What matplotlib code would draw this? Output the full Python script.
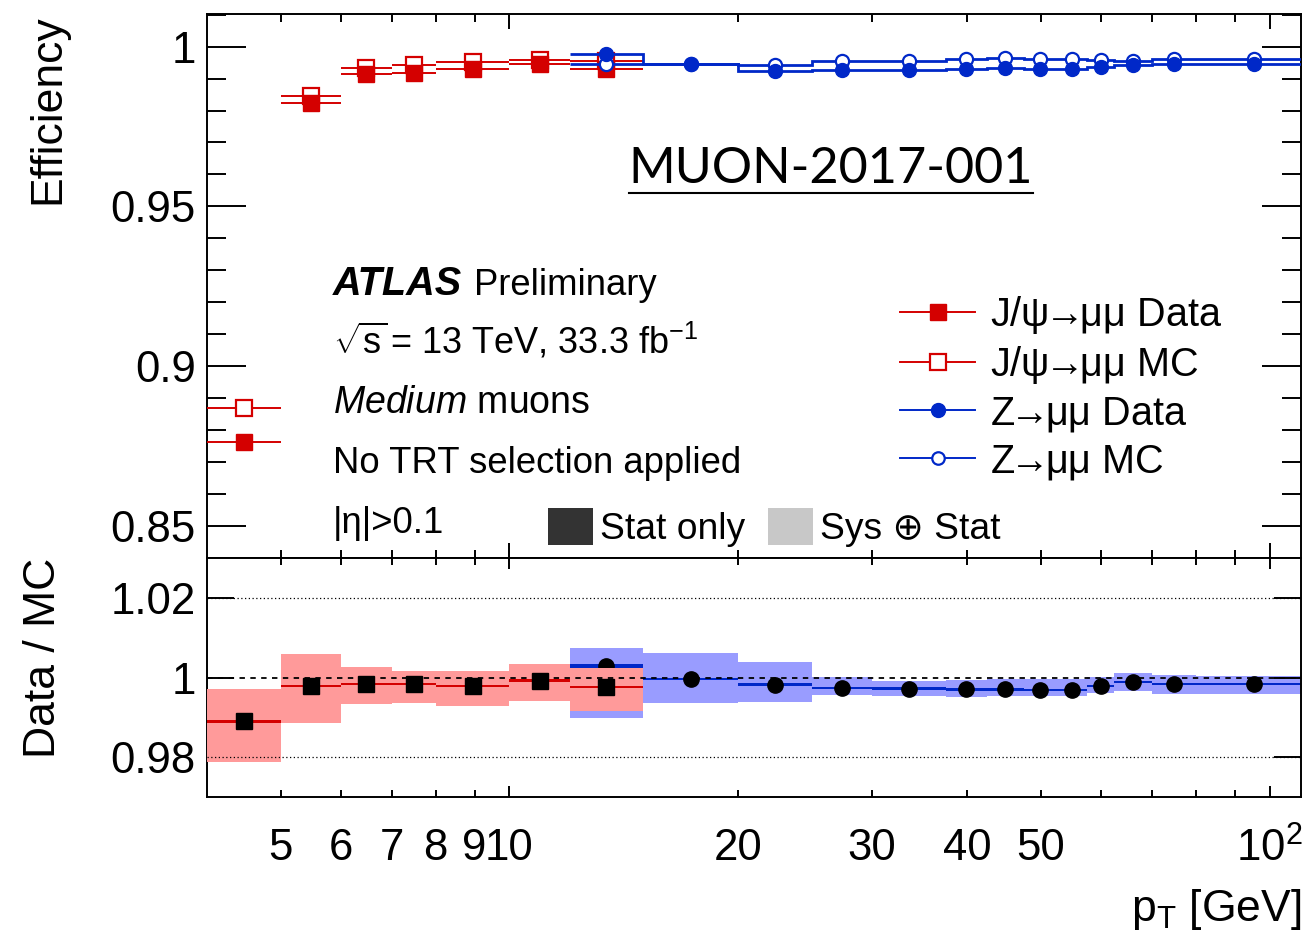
import numpy as np
import matplotlib
matplotlib.use("Agg")
import matplotlib.pyplot as plt
from matplotlib.lines import Line2D
from matplotlib.patches import Patch
from matplotlib.ticker import FixedLocator, FixedFormatter, MultipleLocator, FuncFormatter, NullFormatter

plt.rcParams["font.family"] = ["Liberation Sans", "DejaVu Sans"]
plt.rcParams["mathtext.fontset"] = "custom"
plt.rcParams["mathtext.rm"] = "Liberation Sans"
plt.rcParams["mathtext.it"] = "Liberation Sans:italic"
plt.rcParams["mathtext.bf"] = "Liberation Sans:bold"

# ---- J/psi -> mumu (pT bin edges in GeV) ----
jpsi_edges = [4, 5, 6, 7, 8, 10, 12, 15]
jpsi_data = [0.8764, 0.9822, 0.9914, 0.9917, 0.9929, 0.9944, 0.9929]
jpsi_mc = [0.8870, 0.9846, 0.9932, 0.9942, 0.9953, 0.9958, 0.9954]
jpsi_ratio = [0.9890, 0.9978, 0.9983, 0.9983, 0.9978, 0.9992, 0.9976]
jpsi_ratio_stat = [0.0003, 0.0003, 0.0003, 0.0003, 0.0003, 0.0003, 0.0003]
jpsi_ratio_lo = [0.9788, 0.9885, 0.9933, 0.9936, 0.9929, 0.9942, 0.9915]
jpsi_ratio_hi = [0.9971, 1.0060, 1.0026, 1.0016, 1.0016, 1.0035, 1.0024]

# ---- Z -> mumu ----
z_edges = [12, 15, 20, 25, 30, 37.5, 42.5, 47.5, 52.5, 57.5, 62.5, 70, 80, 114]
z_data = [0.9976, 0.9944, 0.9925, 0.9927, 0.9927, 0.9931, 0.9933, 0.9931, 0.9929,
          0.9936, 0.9943, 0.9944, 0.9945]
z_mc = [0.9947, 0.9947, 0.9943, 0.9954, 0.9955, 0.9961, 0.9964, 0.9962, 0.9960,
        0.9958, 0.9955, 0.9962, 0.9961]
z_ratio = [1.0029, 0.9997, 0.9982, 0.9973, 0.9972, 0.9970, 0.9970, 0.9969, 0.9969,
           0.9978, 0.9988, 0.9983, 0.9984]
z_ratio_stat = [0.0006, 0.0003, 0.0003, 0.0003, 0.0003, 0.0003, 0.0003, 0.0003, 0.0003,
                0.0003, 0.0003, 0.0003, 0.0003]
z_ratio_lo = [0.9899, 0.9935, 0.9938, 0.9955, 0.9953, 0.9952, 0.9953, 0.9953, 0.9954,
              0.9960, 0.9966, 0.9958, 0.9958]
z_ratio_hi = [1.0074, 1.0062, 1.0039, 1.0002, 0.9992, 0.9994, 0.9996, 0.9996, 0.9996,
              1.0002, 1.0011, 1.0006, 1.0004]

x_major = [10, 100]
x_minor = [5, 6, 7, 8, 9, 20, 30, 40, 50, 60, 70, 80, 90]
x_minor_labels = ["5", "6", "7", "8", "9", "20", "30", "40", "50", "", "", "", ""]
x_major_labels = ["10", r"$10^{2}$"]

RED = "#d40000"
RED_BAND = "#ff9a9a"
BLUE = "#0028c8"
BLUE_BAND = "#999cff"


def centres(edges):
    e = np.asarray(edges, dtype=float)
    return np.sqrt(e[:-1] * e[1:])


def half_widths(edges):
    e = np.asarray(edges, dtype=float)
    c = centres(edges)
    return np.vstack([c - e[:-1], e[1:] - c])


fig = plt.figure(figsize=(13.07, 9.35), dpi=100)
ax1 = fig.add_axes([0.15838, 0.40321, 0.83703, 0.58182])
ax2 = fig.add_axes([0.15838, 0.14759, 0.83703, 0.25561], sharex=ax1)

jc, jx = centres(jpsi_edges), half_widths(jpsi_edges)
zc = centres(z_edges)

# ---------------- efficiency panel ----------------
ax1.errorbar(jc, jpsi_mc, xerr=jx, fmt="s", ms=11, mfc="white", mec=RED, mew=1.6,
             ecolor=RED, elinewidth=1.4, capsize=0, zorder=3)
ax1.errorbar(jc, jpsi_data, xerr=jx, fmt="s", ms=11, mfc=RED, mec=RED,
             ecolor=RED, elinewidth=1.4, capsize=0, zorder=4)
ax1.stairs(z_mc, z_edges, baseline=None, color=BLUE, lw=2.0, zorder=5)
ax1.plot(zc, z_mc, "o", ms=9.5, mfc="white", mec=BLUE, mew=1.6, zorder=5)
ax1.stairs(z_data, z_edges, baseline=None, color=BLUE, lw=2.0, zorder=6)
ax1.plot(zc, z_data, "o", ms=10, mfc=BLUE, mec=BLUE, zorder=6)

ax1.set_xscale("log")
ax1.set_xlim(4, 110)
ax1.set_ylim(0.84, 1.0102)
ax1.yaxis.set_major_locator(MultipleLocator(0.05))
ax1.yaxis.set_minor_locator(MultipleLocator(0.01))
ax1.yaxis.set_major_formatter(FuncFormatter(lambda v, p: "%g" % round(v, 4)))

# ---------------- ratio panel ----------------
ax2.stairs(z_ratio_hi, z_edges, baseline=z_ratio_lo, fill=True, color=BLUE_BAND, lw=0, zorder=1)
ax2.stairs(np.add(z_ratio, z_ratio_stat), z_edges, baseline=np.subtract(z_ratio, z_ratio_stat),
           fill=True, color=BLUE, lw=0, zorder=2)
ax2.plot(zc, z_ratio, "o", ms=11, color="black", zorder=3)
ax2.stairs(jpsi_ratio_hi, jpsi_edges, baseline=jpsi_ratio_lo, fill=True, color=RED_BAND, lw=0, zorder=4)
ax2.stairs(np.add(jpsi_ratio, jpsi_ratio_stat), jpsi_edges,
           baseline=np.subtract(jpsi_ratio, jpsi_ratio_stat),
           fill=True, color=RED, lw=0, zorder=5)
ax2.axhline(1.0, color="black", lw=1.3, ls=(0, (3, 3)), zorder=6)
for yv in (0.98, 1.02):
    ax2.axhline(yv, color="black", lw=0.9, ls=(0, (1, 2)), zorder=6)
ax2.plot(jc, jpsi_ratio, "s", ms=11, color="black", zorder=7)

ax2.set_ylim(0.97, 1.03)
ax2.yaxis.set_major_locator(FixedLocator([0.98, 1.0, 1.02]))
ax2.yaxis.set_major_formatter(FixedFormatter(["0.98", "1", "1.02"]))
ax2.yaxis.set_minor_locator(FixedLocator([]))

for ax in (ax1, ax2):
    ax.xaxis.set_major_locator(FixedLocator(x_major))
    ax.xaxis.set_minor_locator(FixedLocator(x_minor))
    for s in ax.spines.values():
        s.set_linewidth(1.4)
ax1.xaxis.set_major_formatter(NullFormatter())
ax1.xaxis.set_minor_formatter(NullFormatter())
ax2.xaxis.set_major_formatter(FixedFormatter(x_major_labels))
ax2.xaxis.set_minor_formatter(FixedFormatter(x_minor_labels))

ax1.tick_params(axis="both", which="both", direction="in", top=True, right=True,
                width=1.4, labelsize=31.5)
ax1.tick_params(axis="y", which="major", length=28, pad=8)
ax1.tick_params(axis="y", which="minor", length=14)
ax1.tick_params(axis="x", which="major", length=11, labelbottom=False)
ax1.tick_params(axis="x", which="minor", length=6, labelbottom=False)

ax2.tick_params(axis="both", which="both", direction="in", top=True, right=True,
                width=1.4, labelsize=31.5)
ax2.tick_params(axis="y", which="major", length=19.5, pad=8)
ax2.tick_params(axis="x", which="major", length=8, pad=22)
ax2.tick_params(axis="x", which="minor", length=5, pad=22)

ax1.set_ylabel("Efficiency", fontsize=32, loc="top")
ax1.yaxis.set_label_coords(-0.127, 1.0)
ax2.set_ylabel("Data / MC", fontsize=32, loc="top")
ax2.yaxis.set_label_coords(-0.131, 1.0)
ax2.set_xlabel(r"p$_{\mathrm{T}}$ [GeV]", fontsize=32, loc="right", labelpad=12)

# ---------------- labels ----------------
tx = 0.1152
fs = 26.3
ax1.text(tx, 0.4835, "ATLAS", transform=ax1.transAxes, fontsize=28.5,
         fontweight="bold", fontstyle="italic", va="baseline")
ax1.text(0.2441, 0.4835, "Preliminary", transform=ax1.transAxes, fontsize=fs, va="baseline")
ax1.text(tx, 0.375, r"$\sqrt{\mathrm{s}}\!$ = 13 TeV, 33.3 fb$^{-1}$", transform=ax1.transAxes,
         fontsize=26, va="baseline")
ax1.text(tx, 0.2671, r"$\mathit{Medium}$ muons", transform=ax1.transAxes, fontsize=27,
         va="baseline")
ax1.text(tx, 0.1557, "No TRT selection applied", transform=ax1.transAxes, fontsize=fs,
         va="baseline")
ax1.text(tx, 0.0454, "|η|>0.1", transform=ax1.transAxes, fontsize=fs, va="baseline")

tag = ax1.text(0.5704, 0.689, "MUON-2017-001", transform=ax1.transAxes, fontsize=36.3,
               family="Lato", ha="center", va="baseline")

handles = [
    Line2D([], [], color=RED, lw=1.4, marker="s", ms=11, mfc=RED, mec=RED),
    Line2D([], [], color=RED, lw=1.4, marker="s", ms=11, mfc="white", mec=RED, mew=1.6),
    Line2D([], [], color=BLUE, lw=1.4, marker="o", ms=10, mfc=BLUE, mec=BLUE),
    Line2D([], [], color=BLUE, lw=1.4, marker="o", ms=9, mfc="white", mec=BLUE, mew=1.6),
]
arrow = r"$\!\!\rightarrow\!\!$"
labels = ["J/ψ" + arrow + "μμ Data", "J/ψ" + arrow + "μμ MC",
          "Z" + arrow + "μμ Data", "Z" + arrow + "μμ MC"]
leg1 = ax1.legend(handles, labels, loc="upper left", bbox_to_anchor=(0.6334, 0.486),
                  frameon=False, fontsize=28.5, handlelength=1.9, handletextpad=0.38,
                  labelspacing=0.21, borderpad=0, borderaxespad=0)
ax1.add_artist(leg1)

band_handles = [Patch(facecolor="#333333", edgecolor="none"),
                Patch(facecolor="#c8c8c8", edgecolor="none")]
ax1.legend(band_handles, ["Stat only", "Sys ⊕ Stat"], loc="upper left",
           bbox_to_anchor=(0.3117, 0.0919), ncol=2, frameon=False, fontsize=26.8,
           handlelength=1.2, handleheight=1.15, handletextpad=0.2, columnspacing=0.62,
           borderpad=0, borderaxespad=0)

# underline under the note tag
fig.canvas.draw()
bb = tag.get_window_extent().transformed(fig.transFigure.inverted())
fig.add_artist(Line2D([bb.x0, bb.x1], [bb.y0 - 0.001, bb.y0 - 0.001],
                      transform=fig.transFigure, color="black", lw=1.5))

fig.savefig("out.png", dpi=100)
